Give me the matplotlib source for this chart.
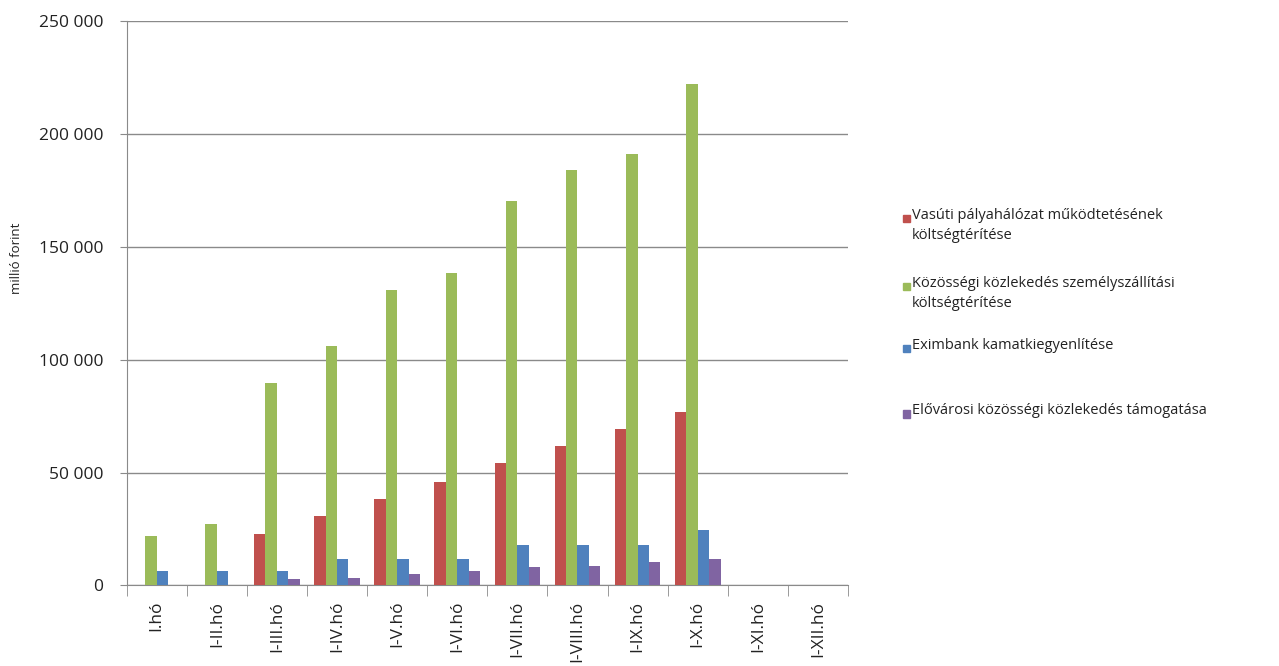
import numpy as np
import matplotlib
matplotlib.use("Agg")
import matplotlib.pyplot as plt
from matplotlib.patches import Rectangle
from matplotlib.ticker import FuncFormatter

plt.rcParams["font.family"] = ["Open Sans", "DejaVu Sans"]

# Data (millió forint), cumulative by month
periods = ["I.hó", "I-II.hó", "I-III.hó", "I-IV.hó", "I-V.hó", "I-VI.hó",
           "I-VII.hó", "I-VIII.hó", "I-IX.hó", "I-X.hó", "I-XI.hó", "I-XII.hó"]
vasuti = [0, 0, 23000, 30600, 38100, 45700, 54200, 61700, 69200, 76800, 0, 0]
kozossegi = [21700, 27000, 89500, 106000, 131000, 138500, 170500, 184000, 191000, 222000, 0, 0]
eximbank = [6200, 6200, 6200, 11500, 11500, 11500, 17700, 17700, 17700, 24400, 0, 0]
elovarosi = [0, 0, 2700, 3400, 4900, 6200, 8000, 8700, 10200, 11500, 0, 0]

series_labels = ["Vasúti pályahálózat működtetésének\nköltségtérítése",
                 "Közösségi közlekedés személyszállítási\nköltségtérítése",
                 "Eximbank kamatkiegyenlítése",
                 "Elővárosi közösségi közlekedés támogatása"]
colors = ["#C0504D", "#9BBB59", "#4F81BD", "#8064A2"]

fig = plt.figure(figsize=(12.79, 6.66), dpi=100)
ax = fig.add_axes([0.099, 0.121, 0.564, 0.847])

x = np.arange(len(periods))
width = 0.19
all_series = [vasuti, kozossegi, eximbank, elovarosi]
for i, (vals, col) in enumerate(zip(all_series, colors)):
    ax.bar(x + (i - 1.5) * width, vals, width, color=col, zorder=3)

ax.set_xlim(-0.5, len(periods) - 0.5)
ax.set_ylim(0, 250000)
ax.set_yticks(np.arange(0, 250001, 50000))
ax.yaxis.set_major_formatter(FuncFormatter(lambda v, p: f"{int(v):,}".replace(",", " ")))
ax.grid(axis="y", color="#8a8a8a", linewidth=1.0, zorder=0)

ax.set_xticks(x)
ax.set_xticklabels(periods, rotation=90, fontsize=12.5, color="#222222")
ax.set_xticks(np.arange(-0.5, len(periods), 1), minor=True)
ax.tick_params(axis="x", which="major", length=0, pad=11)
ax.tick_params(axis="x", which="minor", length=8, color="#8a8a8a", direction="out")
ax.tick_params(axis="y", length=5, color="#8a8a8a", labelsize=12.5, labelcolor="#222222", pad=12)

for side in ["top", "right"]:
    ax.spines[side].set_visible(False)
for side in ["left", "bottom"]:
    ax.spines[side].set_color("#8a8a8a")

ax.set_ylabel("millió forint", fontsize=9.5, color="#222222")
ax.yaxis.set_label_coords(-0.143, 0.58)

# legend on the right
leg_tops = [0.688, 0.586, 0.493, 0.395]
for lab, col, ty in zip(series_labels, colors, leg_tops):
    fig.patches.append(Rectangle((0.706, ty - 0.022), 0.0058, 0.011,
                                 transform=fig.transFigure, color=col))
    fig.text(0.713, ty, lab, fontsize=10.5, va="top", ha="left",
             color="#222222", linespacing=1.45)

fig.savefig("out.png", dpi=100)
